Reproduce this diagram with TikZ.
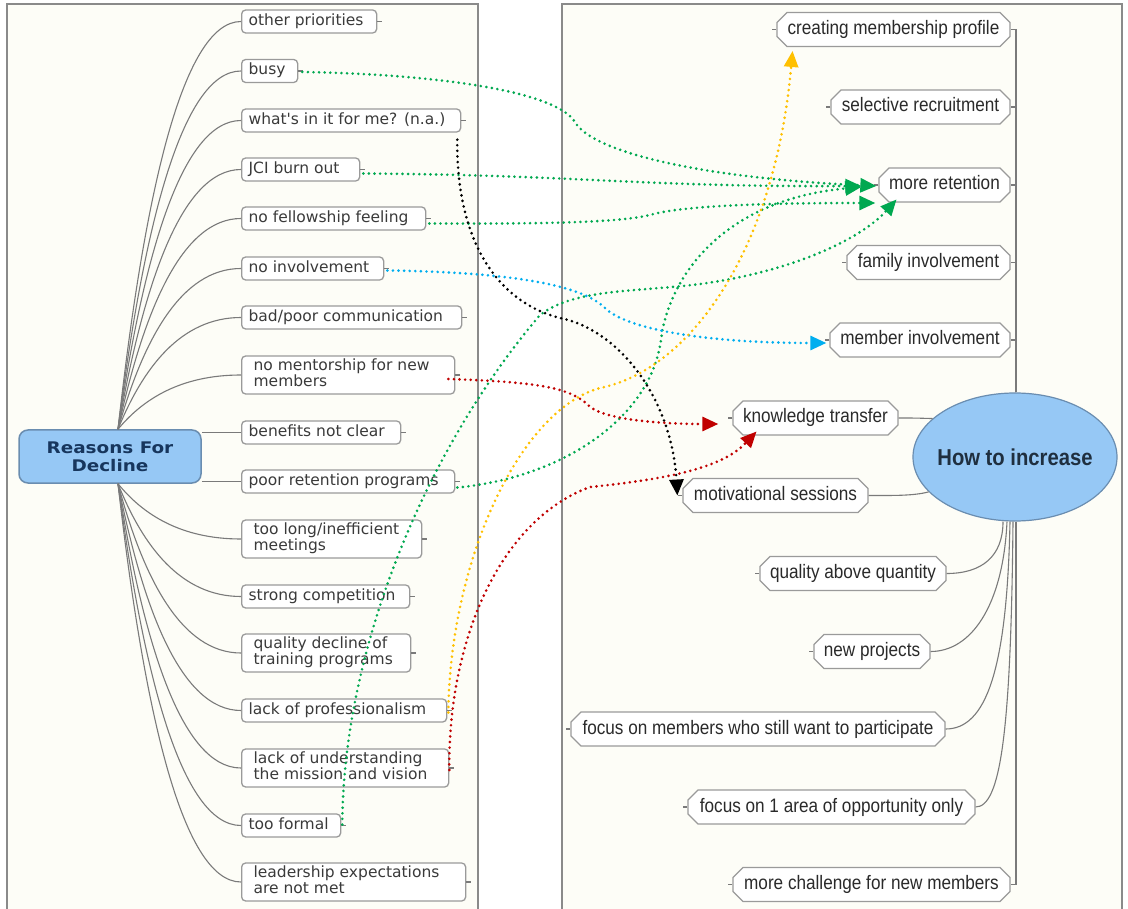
\documentclass[tikz,border=0pt]{standalone}
\usepackage{fontspec}
\setmainfont{DejaVu Sans}
\newfontfamily\lfont{DejaVu Sans}
\newfontfamily\rootfont[FakeStretch=1.15]{DejaVu Sans}
\newfontfamily\rfont[FakeStretch=0.88]{Liberation Sans}
\usetikzlibrary{arrows.meta,shapes.misc,shapes.geometric,calc}
\definecolor{panelbg}{HTML}{FDFDF7}
\definecolor{framegray}{HTML}{8A8A8A}
\definecolor{boxgray}{HTML}{9A9A9A}
\definecolor{ltxt}{HTML}{3A3A3A}
\definecolor{rtxt}{HTML}{2A2A2A}
\definecolor{rootblue}{HTML}{96C8F5}
\definecolor{rootedge}{HTML}{6A8DB0}
\definecolor{roottxt}{HTML}{17365D}
\definecolor{htitxt}{HTML}{1F2F3F}
\definecolor{linkgray}{HTML}{7A7A7A}
\definecolor{agreen}{HTML}{00A850}
\definecolor{ablue}{HTML}{00AEEF}
\definecolor{ared}{HTML}{C00000}
\definecolor{aorange}{HTML}{FFC000}
\newcommand{\ltxtone}[2]{\hspace*{7pt}\makebox[\dimexpr#1pt-7pt\relax][l]{#2}}
\newcommand{\ltxttwo}[3]{\hspace*{12pt}\makebox[\dimexpr#1pt-12pt\relax][l]{\begin{tabular}{@{}l@{}}#2\\#3\end{tabular}}}
\begin{document}
\begin{tikzpicture}[x=1pt,y=-1pt,
  lnode/.style={rectangle, draw=boxgray, line width=1.3pt, rounded corners=4pt, fill=white,
    anchor=west, inner xsep=0pt, inner ysep=0pt, minimum height=23pt,
    text height=11.5pt, text depth=3.5pt,
    font=\lfont\fontsize{15.5}{16}\selectfont, text=ltxt},
  lnodetwo/.style={rectangle, draw=boxgray, line width=1.3pt, rounded corners=4pt, fill=white,
    anchor=west, inner xsep=0pt, inner ysep=0pt, minimum height=38pt,
    font=\lfont\fontsize{15.5}{16}\selectfont, text=ltxt},
  rootbox/.style={rectangle, rounded corners=9pt, fill=rootblue, draw=rootedge, line width=1.5pt,
    minimum width=182pt, minimum height=53pt, inner sep=0pt, align=center,
    font=\rootfont\bfseries\fontsize{16}{18}\selectfont, text=roottxt},
  rnode/.style={chamfered rectangle, chamfered rectangle xsep=5pt, chamfered rectangle ysep=5pt,
    draw=boxgray, line width=1.3pt, fill=white, minimum height=34pt, inner xsep=0pt, inner ysep=0pt,
    text height=14pt, text depth=4pt,
    font=\rfont\fontsize{19.5}{22}\selectfont, text=rtxt},
  htibox/.style={ellipse, fill=rootblue, draw=rootedge, line width=1.2pt,
    minimum width=204pt, minimum height=128pt, inner sep=0pt,
    font=\rfont\bfseries\fontsize{23}{26}\selectfont, text=htitxt},
  branch/.style={draw=linkgray, line width=1.1pt},
  dotline/.style={line width=2.9pt, dash pattern=on 0pt off 5.6pt, line cap=round,
    -{Triangle[length=16pt,width=14pt]}},
]
\useasboundingbox (0,0) rectangle (1128,909);
\fill[white] (0,0) rectangle (1128,909);
\filldraw[fill=panelbg, draw=framegray, line width=1.5pt] (7,4) rectangle (478,925);
\filldraw[fill=panelbg, draw=framegray, line width=1.5pt] (562,4) rectangle (1122,925);

% left nodes
\node[rootbox] (root) at (110,456.5) {Reasons For\\Decline};
\node[lnode] (op) at (241,21.5) {\ltxtone{135}{other priorities}};
\node[lnode] (busy) at (241,71) {\ltxtone{56}{busy}};
\node[lnode] (wi) at (241,120.5) {\ltxtone{219}{what's in it for me? (n.a.)}};
\node[lnode] (jci) at (241,169.5) {\ltxtone{118}{JCI burn out}};
\node[lnode] (nf) at (241,218.5) {\ltxtone{184}{no fellowship feeling}};
\node[lnode] (ni) at (241,268.5) {\ltxtone{142}{no involvement}};
\node[lnode] (bp) at (241,317.5) {\ltxtone{220}{bad/poor communication}};
\node[lnodetwo] (nm) at (241,375) {\ltxttwo{213}{no mentorship for new}{members}};
\node[lnode] (bn) at (241,432.5) {\ltxtone{159}{benefits not clear}};
\node[lnode] (pr) at (241,481.5) {\ltxtone{213}{poor retention programs}};
\node[lnodetwo] (tl) at (241,539) {\ltxttwo{180}{too long/inefficient}{meetings}};
\node[lnode] (sc) at (241,596.5) {\ltxtone{168}{strong competition}};
\node[lnodetwo] (qd) at (241,653) {\ltxttwo{169}{quality decline of}{training programs}};
\node[lnode] (lp) at (241,710.5) {\ltxtone{205}{lack of professionalism}};
\node[lnodetwo] (lu) at (241,768) {\ltxttwo{207}{lack of understanding}{the mission and vision}};
\node[lnode] (tf) at (241,825.5) {\ltxtone{99}{too formal}};
\node[lnodetwo] (le) at (241,882) {\ltxttwo{224}{leadership expectations}{are not met}};

% right nodes
\node[htibox] (hti) at (1015,457) {\makebox[0pt]{\raisebox{-0.36em}[0pt][0pt]{How to increase}}};
\node[rnode, minimum width=233pt] (cmp) at (893.5,29.5) {creating membership profile};
\node[rnode, minimum width=179pt] (sr) at (920.5,107) {selective recruitment};
\node[rnode, minimum width=131pt] (mr) at (944.5,185) {more retention};
\node[rnode, minimum width=163pt] (fi) at (928.5,262.5) {family involvement};
\node[rnode, minimum width=180pt] (mi) at (920,340) {member involvement};
\node[rnode, minimum width=165pt] (kt) at (815.5,418) {knowledge transfer};
\node[rnode, minimum width=185pt] (ms) at (775.5,495.5) {motivational sessions};
\node[rnode, minimum width=186pt] (qa) at (853,573.5) {quality above quantity};
\node[rnode, minimum width=116pt] (np) at (872,651.5) {new projects};
\node[rnode, minimum width=374pt] (fm) at (758,729) {focus on members who still want to participate};
\node[rnode, minimum width=287pt] (fa) at (831.5,807) {focus on 1 area of opportunity only};
\node[rnode, minimum width=277pt] (mc) at (871.5,884.5) {more challenge for new members};

% left connectors
\foreach \n/\d in {op/409,busy/359,wi/310,jci/260,nf/211,ni/162,bp/112,nm/55}
  \draw[branch] ($(root.north)+(8,0)$) .. controls +(25,-0.55*\d) and +(-60,0) .. (\n.west);
\foreach \n/\d in {tl/56,sc/114,qd/170,lp/227,lu/285,tf/342,le/399}
  \draw[branch] ($(root.south)+(8,0)$) .. controls +(25,0.55*\d) and +(-60,0) .. (\n.west);
\draw[branch] (root.east |- bn.west) -- (bn.west);
\draw[branch] (root.east |- pr.west) -- (pr.west);
\foreach \n in {op,busy,wi,jci,nf,ni,bp,nm,bn,pr,tl,sc,qd,lp,lu,tf,le}
  \draw[branch] (\n.east) -- ++(5,0);

% right connectors
\foreach \n in {cmp,sr,mr,fi,mi}
  \draw[branch] ([xshift=1pt]hti.north) |- (\n.east);
\draw[branch] ([xshift=1pt]hti.south) |- (mc.east);
\draw[branch] (kt.east) .. controls +(15,0) .. (hti.155);
\draw[branch] (ms.east) .. controls +(25,0) and +(-15,4) .. (hti.202);
\draw[branch] ([xshift=-12pt]hti.south) .. controls +(0,35) and +(35,0) .. (qa.east);
\draw[branch] ([xshift=-8pt]hti.south) .. controls +(-4,85) and +(40,0) .. (np.east);
\draw[branch] ([xshift=-5pt]hti.south) .. controls +(-3,150) and +(40,0) .. (fm.east);
\draw[branch] ([xshift=-2pt]hti.south) .. controls +(-2,210) and +(25,0) .. (fa.east);
\foreach \n in {cmp,sr,mr,fi,mi,kt,ms,qa,np,fm,fa,mc}
  \draw[branch] (\n.west) -- ++(-4,0);

% dotted arrows
\draw[dotline, agreen] ($(busy.east)+(4,1)$) .. controls (430,74) and (555,90) .. (575,122)
  .. controls (592,152) and (700,178) .. ($(mr.west)+(-2,1)$);
\draw[dotline, agreen] ($(jci.east)+(3,4)$) .. controls (580,175) and (640,187) .. ($(mr.west)+(-17,1)$);
\draw[dotline, agreen] ($(nf.east)+(3,5)$) .. controls (560,224) and (620,222) .. (650,215)
  .. controls (680,206) and (760,203) .. ($(mr.west)+(-3,18)$);
\draw[dotline, agreen] ($(pr.east)+(2,6)$) .. controls (560,478) and (650,420) .. (661,340)
  .. controls (668,280) and (720,200) .. ($(mr.west)+(-17,2)$);
\draw[dotline, agreen] ($(tf.east)+(1,-1)$) .. controls (343,650) and (425,450) .. (540,315)
  .. controls (575,288) and (640,292) .. (700,284)
  .. controls (790,272) and (860,240) .. ($(mr.south west)+(13,2)$);
\draw[dotline, black] ($(wi.south east)+(-4,7)$) .. controls (456,230) and (490,300) .. (560,318)
  .. controls (620,330) and (672,400) .. ($(ms.west)+(-5,0)$);
\draw[dotline, ablue] ($(ni.east)+(3,2)$) .. controls (500,272) and (580,283) .. (605,308)
  .. controls (625,328) and (700,343) .. ($(mi.west)+(-3,3)$);
\draw[dotline, ared] ($(nm.east)+(-7,4)$) .. controls (540,382) and (570,388) .. (588,405)
  .. controls (600,418) and (650,424) .. ($(kt.west)+(-14,6)$);
\draw[dotline, ared] ($(lu.east)+(0,2)$) .. controls (448,640) and (500,520) .. (590,487)
  .. controls (680,478) and (725,465) .. ($(kt.south west)+(19,1)$);
\draw[dotline, aorange] ($(lp.east)+(1,2)$) .. controls (450,560) and (520,410) .. (600,388)
  .. controls (690,370) and (775,250) .. ($(cmp.south west)+(11,9)$);
\end{tikzpicture}
\end{document}
